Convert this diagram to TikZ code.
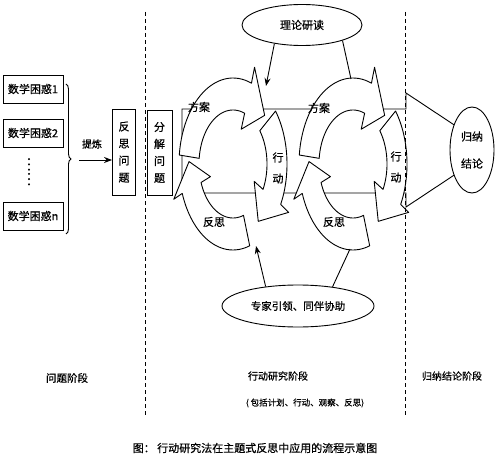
\documentclass[tikz,border=0pt]{standalone}
\usepackage{fontspec}
\setmainfont{Noto Sans CJK SC}[FakeBold=0.6]
\usetikzlibrary{decorations.pathreplacing,arrows.meta,shapes.geometric}
% curved fat arrow on an ellipse round (#1,#2): from angle #3 to head base #4, tip at #5
\newcommand\cycarr[5]{%
  \draw[cyc] plot[domain=#3:#4,samples=30] ({#1+54*cos(\x)},{#2+86*sin(\x)})
    -- ({#1+63*cos(#4)},{#2+103*sin(#4)})
    -- ({#1+44*cos(#5)},{#2+70*sin(#5)})
    -- ({#1+24*cos(#4)},{#2+37*sin(#4)})
    -- plot[domain=#3:#4,samples=30] ({#1+34*cos(#3+#4-\x)},{#2+54*sin(#3+#4-\x)})
    -- cycle;}
\begin{document}
\begin{tikzpicture}[x=1pt,y=-1pt,line width=0.9pt,
  font=\fontsize{10.5}{12}\selectfont,
  cyc/.style={draw,fill=white,line join=round},
  box/.style={draw,fill=white,minimum width=60pt,minimum height=28pt,inner sep=0pt,font=\fontsize{11}{13}\selectfont},
  vbox/.style={draw,fill=white,inner sep=0pt,minimum width=23pt,minimum height=86pt,align=center,font=\fontsize{11}{17}\selectfont},
  oval/.style={ellipse,draw,fill=white,inner sep=0pt,align=center},
  lab/.style={font=\fontsize{11}{21}\selectfont,align=center,inner sep=0pt},
  txt/.style={inner sep=0pt,align=center},
  divider/.style={dash pattern=on 4pt off 3pt,line width=0.7pt},
  arr/.style={-{Stealth[length=8pt,width=6pt]}}]
\useasboundingbox (0,0) rectangle (500,465);
\fill[white] (0,0) rectangle (500,465);

% problem stage
\node[box] (p1) at (33,89) {数学困惑1};
\node[box] (p2) at (33,133) {数学困惑2};
\node[txt,rotate=90,font=\fontsize{14}{14}\selectfont] (dots) at (29,172) {……};
\node[box] (pn) at (33,216) {数学困惑n};
\draw[decorate,decoration={brace,amplitude=5pt}] (66,84) -- (66,234);
\coordinate (bt) at (79,160);
\node[txt,font=\fontsize{10}{12}\selectfont] (refine) at (92,144) {提炼};
\node[vbox] (q1) at (124,152) {反\\思\\问\\题};
\draw[arr] (bt) -- (bt -| q1.west);
\node[vbox,minimum width=25pt,minimum height=85pt] (q2) at (159.5,152.5) {分\\解\\问\\题};

% big arrow band
\draw[fill=white,line join=miter] (182,109) -- (406,109) -- (406,93) -- (492,150)
  -- (406,207) -- (406,193) -- (182,193) -- cycle;
\node[oval,minimum width=44pt,minimum height=86pt,font=\fontsize{11}{27}\selectfont] (con) at (472,150) {归纳\\结论};

% cycles
\cycarr{233}{164}{186}{290}{316}
\cycarr{233}{164}{322}{388}{415}
\cycarr{233}{164}{72}{160}{182}
\cycarr{353}{164}{186}{290}{316}
\cycarr{353}{164}{322}{388}{415}
\cycarr{353}{164}{72}{160}{182}

\node[lab] (fa1) at (199,107) {方案};
\node[lab] (xd1) at (278,168) {行\\动};
\node[lab] (fs1) at (214,222) {反思};
\node[lab] (fa2) at (319,108) {方案};
\node[lab] (xd2) at (396,167) {行\\动};
\node[lab] (fs2) at (334,222) {反思};

% ellipses and connectors
\node[oval,minimum width=120pt,minimum height=41pt,font=\fontsize{11}{13}\selectfont] (th) at (302,25) {理论研读};
\node[oval,minimum width=152pt,minimum height=42pt] (ex) at (298,306) {专家引领、同伴协助};
\coordinate (t1) at (266,86);
\coordinate (t2) at (351,79);
\coordinate (b1) at (256,246);
\coordinate (b2) at (350,249);
\draw[arr] (th.214) -- (t1);
\draw (th.-21) -- (t2);
\draw[arr] (ex.149) -- (b1);
\draw (ex.29) -- (b2);

% dividers
\coordinate (d1a) at (145,12); \coordinate (d1b) at (145,416);
\coordinate (d2a) at (405,12); \coordinate (d2b) at (405,416);
\draw[divider] (d1a) -- (d1b);
\draw[divider] (d2a) -- (d2b);

% stage labels
\node[txt] (s1) at (67,378) {问题阶段};
\node[txt,font=\fontsize{10}{12}\selectfont] (s2) at (278,376) {行动研究阶段};
\node[txt,font=\fontsize{8.5}{10}\selectfont] (s2b) at (305,403) {( 包括计划、行动、观察、反思)};
\node[txt,font=\fontsize{10}{12}\selectfont] (s3) at (452,376) {归纳结论阶段};
\node[txt,font=\fontsize{11}{13}\selectfont] (cap) at (255,448) {图： 行动研究法在主题式反思中应用的流程示意图};
\end{tikzpicture}
\end{document}
